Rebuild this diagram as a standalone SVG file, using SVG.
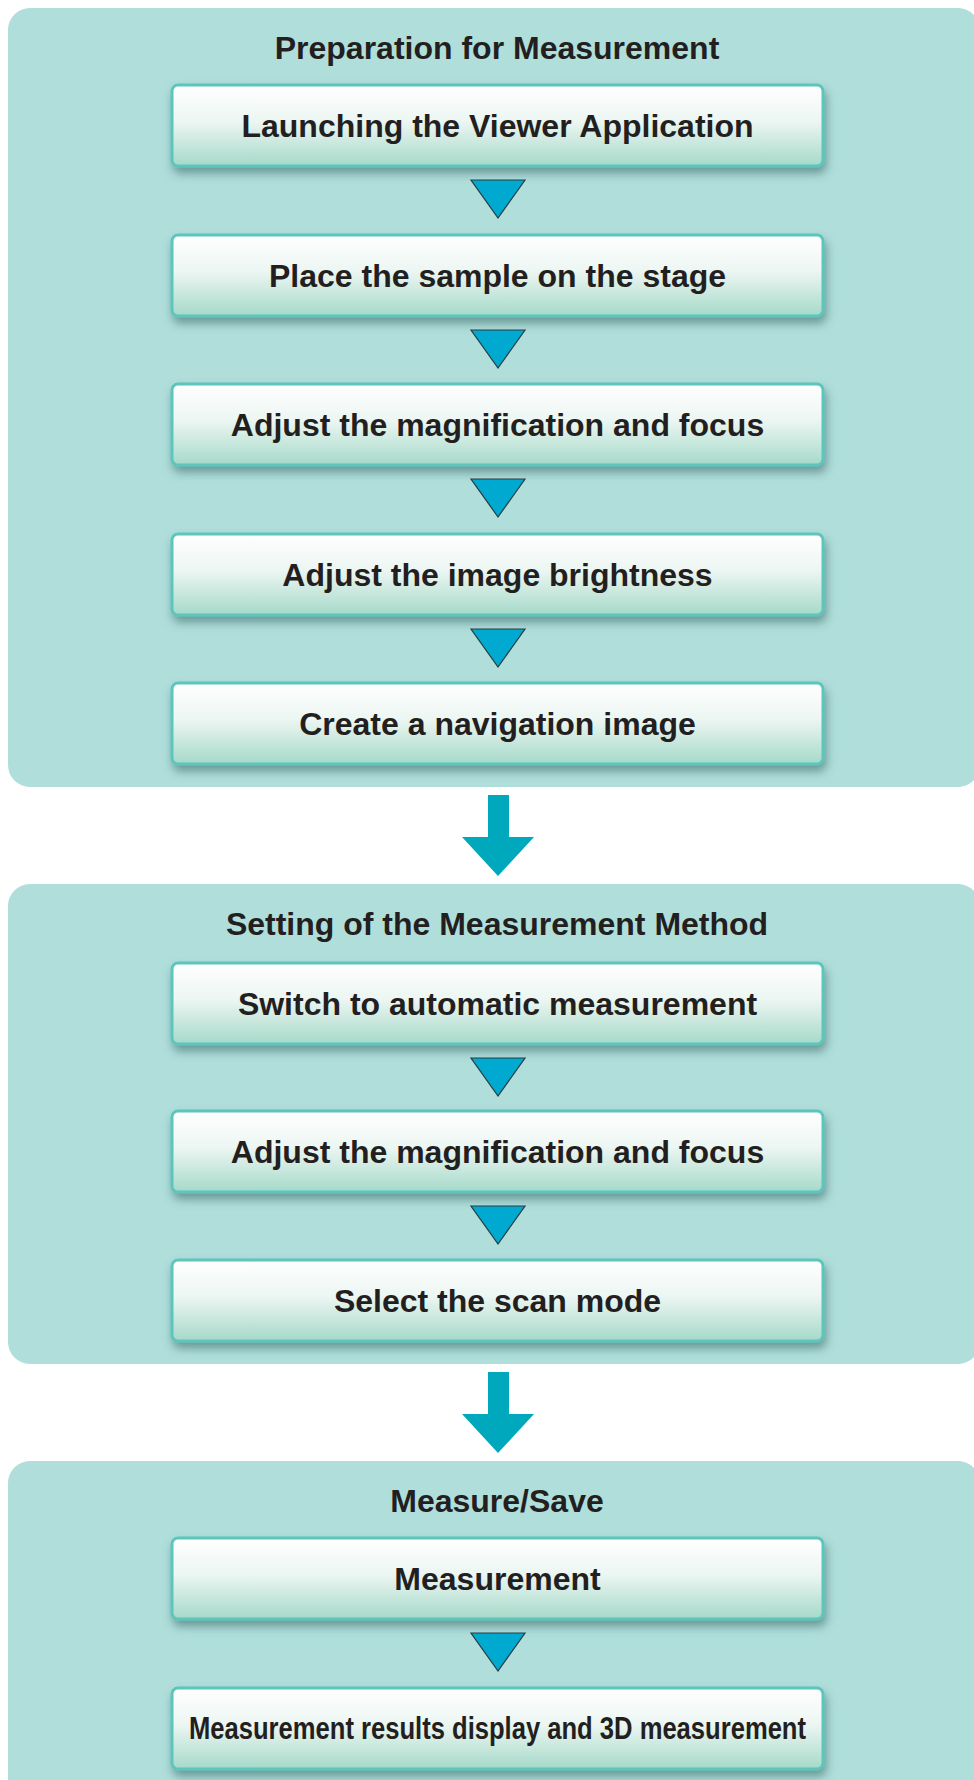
<svg xmlns="http://www.w3.org/2000/svg" width="974" height="1780" viewBox="0 0 974 1780">
<style>
.panel{fill:#b0dedb}
.node{fill:url(#ng);stroke:#5bc6bc;stroke-width:3;filter:url(#sh)}
.t{font-family:"Liberation Sans",Arial,sans-serif;font-weight:bold;font-size:32px;fill:#231f20;text-anchor:middle}
.tri{fill:#00a9cf;stroke:#2a3a40;stroke-width:1.2;stroke-linejoin:miter}
.big{fill:#00a8bd}
</style>
<defs>
<linearGradient id="ng" x1="0" y1="0" x2="0" y2="1">
<stop offset="0" stop-color="#ffffff"/>
<stop offset="0.45" stop-color="#ecf6f2"/>
<stop offset="1" stop-color="#a5d9c9"/>
</linearGradient>
<filter id="sh" x="-10%" y="-20%" width="120%" height="160%">
<feDropShadow dx="2" dy="6" stdDeviation="5" flood-color="#2f5f5c" flood-opacity="0.55"/>
</filter>
</defs>
<g id="panel-prep">
<rect class="panel" x="8" y="8" width="972" height="779" rx="22"/>
<text class="t" x="497" y="59">Preparation for Measurement</text>
</g>
<g id="panel-method">
<rect class="panel" x="8" y="884" width="972" height="480" rx="22"/>
<text class="t" x="497" y="935">Setting of the Measurement Method</text>
</g>
<g id="panel-save">
<rect class="panel" x="8" y="1461" width="972" height="360" rx="22"/>
<text class="t" x="497" y="1512">Measure/Save</text>
</g>
<g id="n1"><rect class="node" x="172" y="85" width="651" height="81" rx="6"/><text class="t" x="497.5" y="137">Launching the Viewer Application</text></g>
<g id="n2"><rect class="node" x="172" y="235" width="651" height="81" rx="6"/><text class="t" x="497.5" y="287">Place the sample on the stage</text></g>
<g id="n3"><rect class="node" x="172" y="384" width="651" height="81" rx="6"/><text class="t" x="497.5" y="436">Adjust the magnification and focus</text></g>
<g id="n4"><rect class="node" x="172" y="534" width="651" height="81" rx="6"/><text class="t" x="497.5" y="586">Adjust the image brightness</text></g>
<g id="n5"><rect class="node" x="172" y="683" width="651" height="81" rx="6"/><text class="t" x="497.5" y="735">Create a navigation image</text></g>
<g id="n6"><rect class="node" x="172" y="963" width="651" height="81" rx="6"/><text class="t" x="497.5" y="1015">Switch to automatic measurement</text></g>
<g id="n7"><rect class="node" x="172" y="1111" width="651" height="81" rx="6"/><text class="t" x="497.5" y="1163">Adjust the magnification and focus</text></g>
<g id="n8"><rect class="node" x="172" y="1260" width="651" height="81" rx="6"/><text class="t" x="497.5" y="1312">Select the scan mode</text></g>
<g id="n9"><rect class="node" x="172" y="1538" width="651" height="81" rx="6"/><text class="t" x="497.5" y="1590">Measurement</text></g>
<g id="n10"><rect class="node" x="172" y="1688" width="651" height="81" rx="6"/><text class="t" x="497.5" y="1739" font-size="30" textLength="617" lengthAdjust="spacingAndGlyphs">Measurement results display and 3D measurement</text></g>
<g id="connectors">
<polygon class="tri" points="471,180 525,180 498,218"/>
<polygon class="tri" points="471,330 525,330 498,368"/>
<polygon class="tri" points="471,479 525,479 498,517"/>
<polygon class="tri" points="471,629 525,629 498,667"/>
<polygon class="tri" points="471,1058 525,1058 498,1096"/>
<polygon class="tri" points="471,1206 525,1206 498,1244"/>
<polygon class="tri" points="471,1633 525,1633 498,1671"/>
<polygon class="big" points="488,795 509,795 509,837 534,837 498,876 462,837 488,837"/>
<polygon class="big" points="488,1372 509,1372 509,1414 534,1414 498,1453 462,1414 488,1414"/>
</g>
</svg>
